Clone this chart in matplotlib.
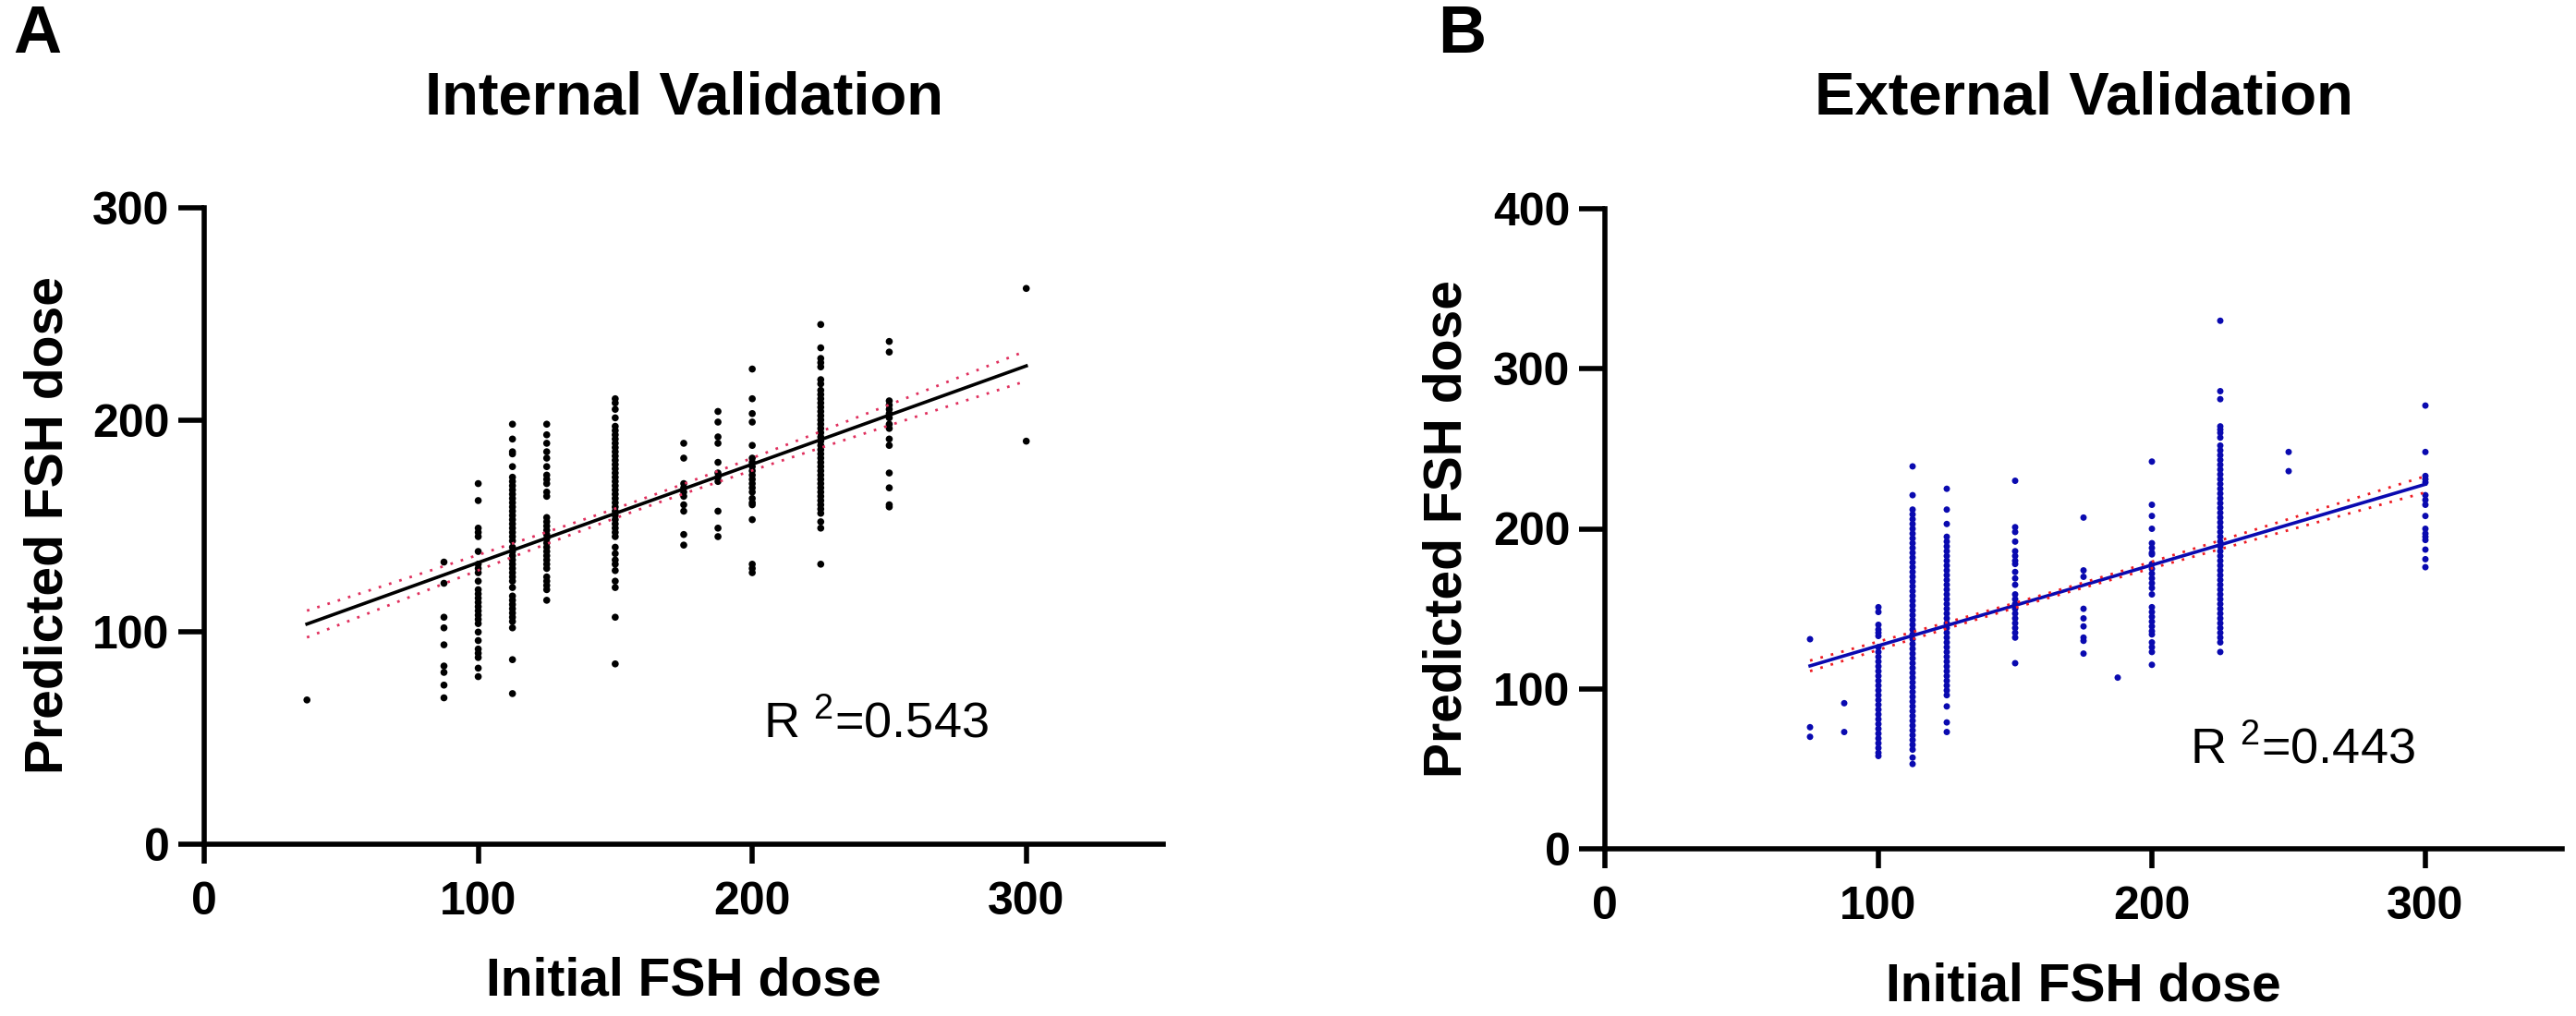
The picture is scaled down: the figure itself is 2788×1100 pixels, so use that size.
import numpy as np
import matplotlib
matplotlib.use("Agg")
import matplotlib.pyplot as plt

plt.rcParams['font.family'] = ['Liberation Sans', 'DejaVu Sans']

# ---------------- data: internal validation ----------------
int_doses = [37.5, 87.5, 100, 112.5, 125, 150, 175, 187.5, 200, 225, 250, 300]
int_pred = {
    37.5: [68],
    87.5: [133, 123, 107, 102, 94, 84, 81, 75, 69],
    100: [170, 162, 149, 147, 145, 138, 132, 130, 128, 124, 120, 118, 116, 114, 112,
          110, 108, 106, 104, 100, 96, 92, 90, 88, 83, 79],
    112.5: [198, 191, 185, 184, 178, 173, 171, 169, 167, 165, 163, 161, 159, 157, 155,
            153, 151, 149, 147, 145, 143, 140, 138, 136, 134, 132, 130, 128, 126, 124,
            121, 117, 115, 113, 111, 109, 107, 105, 102, 87, 71],
    125: [198, 193, 189, 185, 182, 178, 174, 172, 170, 166, 164, 154, 152, 150, 148,
          146, 144, 142, 140, 138, 136, 134, 132, 130, 126, 124, 122, 120, 115],
    150: [210, 208, 205, 201, 197, 195, 193, 191, 189, 187, 185, 183, 181, 179, 177,
          175, 173, 171, 169, 167, 165, 163, 161, 159, 157, 155, 153, 151, 149, 147,
          145, 140, 137, 134, 132, 129, 124, 121, 107, 85],
    175: [189, 182, 170, 168, 166, 164, 160, 157, 146, 141],
    187.5: [204, 199, 192, 189, 180, 175, 173, 171, 157, 149, 145],
    200: [224, 210, 203, 199, 188, 182, 180, 178, 176, 174, 172, 170, 168, 166, 163,
          161, 160, 153, 132, 130, 128],
    225: [245, 234, 229, 227, 225, 219, 217, 214, 212, 210, 208, 206, 204, 202, 200,
          198, 196, 194, 192, 190, 188, 186, 184, 182, 180, 178, 176, 174, 172, 170,
          168, 166, 164, 162, 160, 158, 156, 152, 149, 132],
    250: [237, 232, 209, 207, 205, 203, 201, 198, 196, 191, 188, 175, 168, 160, 159],
    300: [262, 190],
}
# fitted line and 95% CI
int_fit_slope, int_fit_intercept = 0.4636, 86.4
int_fit_range = [37.5, 300]
int_ci_center, int_ci_min, int_ci_growth = 160, 2.2, 0.0482
int_r2_text = "0.543"

# ---------------- data: external validation ----------------
ext_doses = [75, 87.5, 100, 112.5, 125, 150, 175, 187.5, 200, 225, 250, 300]
ext_pred = {
    75: [131, 76, 70],
    87.5: [91, 73],
    100: [151, 148, 140, 137, 135, 133, 126, 123, 120, 117, 114, 111, 108, 105, 102,
          99, 96, 93, 90, 87, 84, 81, 78, 75, 72, 69, 66, 63, 60, 58],
    112.5: [239, 221, 212, 209, 206, 203, 200, 197, 194, 191, 188, 185, 182, 179, 176,
            173, 170, 167, 164, 161, 158, 155, 152, 149, 146, 143, 140, 137, 134, 131,
            128, 125, 122, 119, 116, 113, 110, 107, 104, 101, 98, 95, 92, 89, 86, 83,
            80, 77, 74, 71, 68, 65, 62, 57, 53],
    125: [225, 212, 203, 195, 192, 189, 186, 183, 180, 177, 174, 171, 168, 165, 162,
          159, 156, 153, 150, 147, 144, 141, 138, 135, 132, 129, 126, 123, 120, 117,
          114, 111, 108, 105, 102, 99, 96, 89, 79, 73],
    150: [230, 201, 198, 192, 186, 183, 180, 178, 173, 169, 165, 159, 156, 153, 150,
          147, 144, 141, 138, 135, 132, 116],
    175: [207, 174, 170, 150, 144, 139, 132, 130, 122],
    187.5: [107],
    200: [242, 215, 208, 200, 191, 188, 185, 184, 178, 175, 172, 169, 166, 163, 159,
          151, 148, 145, 142, 139, 136, 134, 129, 126, 123, 115],
    225: [330, 286, 281, 264, 262, 260, 257, 252, 249, 246, 243, 240, 237, 234, 231,
          228, 225, 222, 219, 216, 213, 210, 207, 204, 201, 198, 195, 192, 189, 186,
          183, 180, 177, 174, 171, 168, 165, 162, 159, 156, 153, 150, 147, 144, 141,
          138, 135, 132, 129, 123],
    250: [248, 236],
    300: [277, 248, 233, 231, 229, 221, 218, 215, 208, 200, 197, 195, 193, 187, 181, 176],
}
ext_fit_slope, ext_fit_intercept = 0.5044, 76.5
ext_fit_range = [75, 300]
ext_ci_center, ext_ci_min, ext_ci_growth = 160, 1.5, 0.0346
ext_r2_text = "0.443"

x_ticks = [0, 100, 200, 300]
int_y_ticks = [0, 100, 200, 300]
ext_y_ticks = [0, 100, 200, 300, 400]

W, H = 2788, 1100
fig = plt.figure(figsize=(W / 100, H / 100), dpi=100)


def fx(px):
    return px / W


def fy(py):
    return 1 - py / H


def panel(rect, doses, preds, color, msize, slope, intercept, frange,
          ci_c, ci_min, ci_g, ci_color, ymax, yticks, r2, r2_pos):
    ax = fig.add_axes(rect)
    xs, ys = [], []
    for d in doses:
        for v in preds[d]:
            xs.append(d)
            ys.append(v)
    ax.scatter(xs, ys, s=msize, color=color, edgecolors='none', zorder=3, clip_on=False)
    xl = np.linspace(frange[0], frange[1], 200)
    yl = slope * xl + intercept
    hw = np.sqrt(ci_min ** 2 + (ci_g * (xl - ci_c)) ** 2)
    ax.plot(xl, yl, color=color if color != 'black' else 'black', lw=2.6, zorder=4)
    for sgn in (1, -1):
        ax.plot(xl, yl + sgn * hw, color=ci_color, lw=2.0, linestyle=(0, (1, 3.2)),
                zorder=4)
    ax.set_xlim(0, 350)
    ax.set_ylim(0, ymax)
    ax.set_xticks(x_ticks)
    ax.set_yticks(yticks)
    for s in ('top', 'right'):
        ax.spines[s].set_visible(False)
    for s in ('left', 'bottom'):
        ax.spines[s].set_linewidth(4)
        ax.spines[s].set_capstyle('projecting')
    ax.tick_params(axis='x', length=15, width=4, pad=14, labelsize=36)
    ax.tick_params(axis='y', length=20, width=4, pad=7, labelsize=36)
    for lab in ax.get_xticklabels() + ax.get_yticklabels():
        lab.set_fontweight('bold')
    ax.text(r2_pos[0], r2_pos[1], r'R $^{\mathregular{2}}$=' + r2, fontsize=39,
            ha='center', va='center')
    return ax


panel([fx(221), fy(914), fx(1259) - fx(221), fy(225) - fy(914)],
      int_doses, int_pred, 'black', 30, int_fit_slope, int_fit_intercept,
      int_fit_range, int_ci_center, int_ci_min, int_ci_growth, '#e0305e',
      300, int_y_ticks, int_r2_text, (245, 57))

panel([fx(1737), fy(919), fx(2773) - fx(1737), fy(226) - fy(919)],
      ext_doses, ext_pred, '#0a0ab0', 25, ext_fit_slope, ext_fit_intercept,
      ext_fit_range, ext_ci_center, ext_ci_min, ext_ci_growth, '#ee1c24',
      400, ext_y_ticks, ext_r2_text, (255, 62))

# titles, labels, panel letters
fig.text(fx(740), fy(107), 'Internal Validation', fontsize=47, fontweight='bold',
         ha='center', va='center')
fig.text(fx(2255), fy(107), 'External Validation', fontsize=47, fontweight='bold',
         ha='center', va='center')
fig.text(fx(740), fy(1063), 'Initial FSH dose', fontsize=41, fontweight='bold',
         ha='center', va='center')
fig.text(fx(2255), fy(1068), 'Initial FSH dose', fontsize=41, fontweight='bold',
         ha='center', va='center')
fig.text(fx(53), fy(569), 'Predicted FSH dose', fontsize=41, fontweight='bold',
         ha='center', va='center', rotation=90)
fig.text(fx(1567), fy(572), 'Predicted FSH dose', fontsize=41, fontweight='bold',
         ha='center', va='center', rotation=90)
fig.text(fx(40), fy(38), 'A', fontsize=52, fontweight='bold', ha='center', va='center')
fig.text(fx(1582), fy(38), 'B', fontsize=52, fontweight='bold', ha='center', va='center')

fig.savefig('out.png', dpi=100)
